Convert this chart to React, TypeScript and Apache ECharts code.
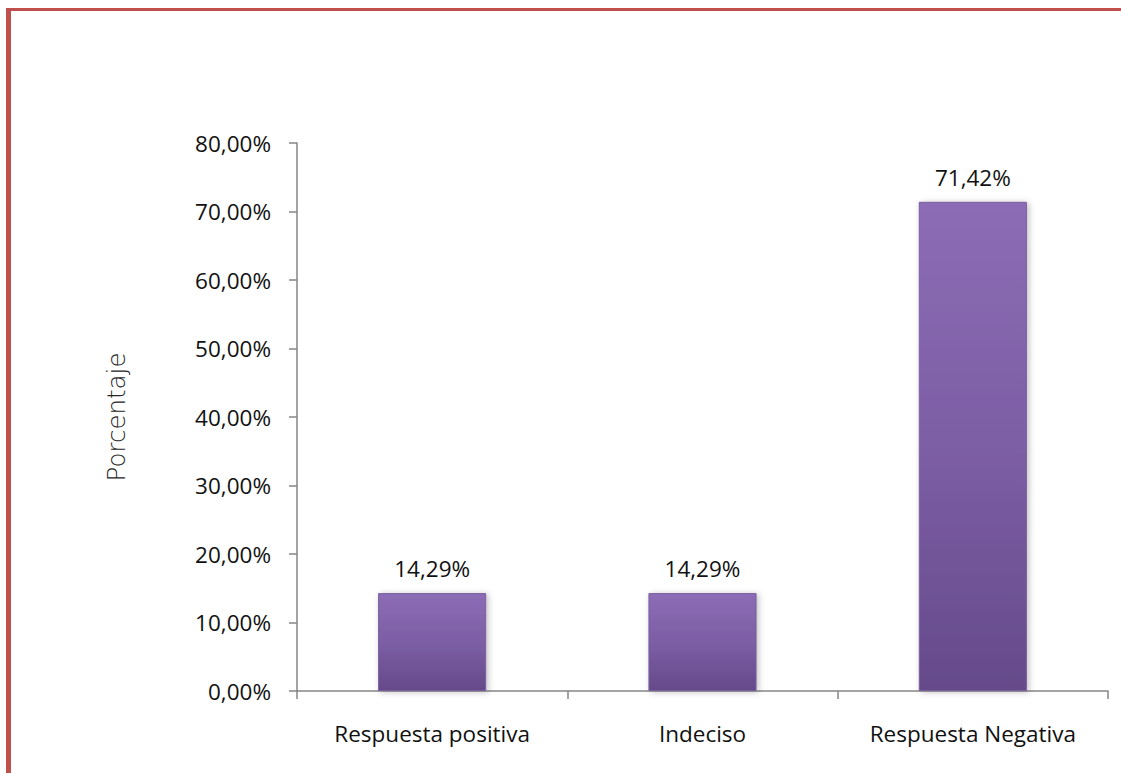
import React, { useEffect, useRef } from "react";
import * as echarts from "echarts";

const categories = ["Respuesta positiva", "Indeciso", "Respuesta Negativa"];
const values = [14.29, 14.29, 71.42];
const yTicks = [0, 10, 20, 30, 40, 50, 60, 70, 80];

const fmt = (v: number) => v.toFixed(2).replace(".", ",") + "%";

export default function App() {
  const ref = useRef<HTMLDivElement>(null);
  useEffect(() => {
    const chart = echarts.init(ref.current!, null, { renderer: "svg" });
    const font = "'Open Sans', 'Liberation Sans', sans-serif";
    chart.setOption({
      animation: false,
      backgroundColor: "#ffffff",
      grid: { left: 297, right: 13, top: 143, bottom: 82 },
      xAxis: {
        type: "category",
        data: categories,
        axisLine: { lineStyle: { color: "#868686", width: 1.5 } },
        axisTick: { show: true, length: 8, lineStyle: { color: "#868686", width: 1.5 } },
        axisLabel: { color: "#111", fontSize: 22.5, fontFamily: font, margin: 31 },
      },
      yAxis: {
        type: "value",
        min: yTicks[0],
        max: yTicks[yTicks.length - 1],
        interval: 10,
        name: "Porcentaje",
        nameLocation: "middle",
        nameRotate: 90,
        nameGap: 168,
        nameTextStyle: { color: "#262626", fontSize: 24.5, fontFamily: "'DejaVu Sans', sans-serif", fontWeight: 200 },
        splitLine: { show: false },
        axisLine: { show: true, lineStyle: { color: "#868686", width: 1.5 } },
        axisTick: { show: true, length: 8, lineStyle: { color: "#868686", width: 1.5 } },
        axisLabel: { color: "#111", fontSize: 22.5, fontFamily: font, margin: 26, formatter: (v: number) => fmt(v) },
      },
      series: [
        {
          type: "bar",
          data: values,
          barWidth: "40%",
          itemStyle: {
            color: new echarts.graphic.LinearGradient(0, 0, 0, 1, [
              { offset: 0, color: "#8c6db5" },
              { offset: 0.5, color: "#7c5ea5" },
              { offset: 1, color: "#654a8a" },
            ]),
            borderColor: "#7a5ea0",
            borderWidth: 1,
            shadowColor: "rgba(0,0,0,0.25)",
            shadowBlur: 6,
            shadowOffsetX: 2,
            shadowOffsetY: 1,
          },
          label: {
            show: true,
            position: "top",
            distance: 13,
            color: "#111",
            fontSize: 22.5,
            fontFamily: font,
            formatter: (p: any) => fmt(p.value),
          },
        },
      ],
      graphic: [
        { type: "rect", shape: { x: 6, y: 8, width: 1115, height: 3 }, style: { fill: "#c0504d" } },
        { type: "rect", shape: { x: 6, y: 8, width: 5, height: 765 }, style: { fill: "#c0504d" } },
      ],
    });
    return () => chart.dispose();
  }, []);
  return <div ref={ref} style={{ position: "fixed", left: 0, top: 0, width: 1121, height: 773 }} />;
}
